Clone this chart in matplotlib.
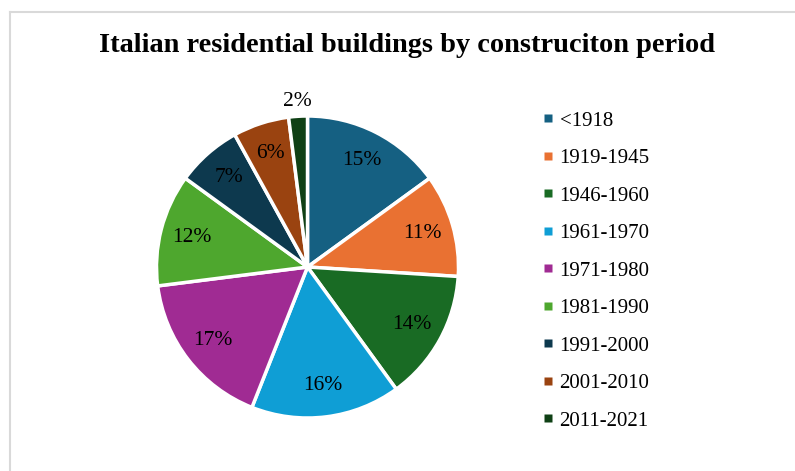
import matplotlib
matplotlib.use("Agg")
import matplotlib.pyplot as plt
from matplotlib.lines import Line2D
import numpy as np

categories = ["<1918", "1919-1945", "1946-1960", "1961-1970", "1971-1980",
              "1981-1990", "1991-2000", "2001-2010", "2011-2021"]
values = [15, 11, 14, 16, 17, 12, 7, 6, 2]
colors = ["#156082", "#E97132", "#196B24", "#0F9ED5", "#A02B93",
          "#4EA72E", "#0D394E", "#9A4310", "#0F4015"]
title = "Italian residential buildings by construciton period"

plt.rcParams['font.family'] = ['Liberation Serif', 'DejaVu Serif']

W, H = 795, 471
fig = plt.figure(figsize=(W / 100, H / 100), dpi=100)

# frame
fig.add_artist(Line2D([10 / W, 10 / W], [0, 1 - 12 / H], color="#D9D9D9", lw=1.5))
fig.add_artist(Line2D([10 / W, 1], [1 - 12 / H, 1 - 12 / H], color="#D9D9D9", lw=1.5))

cx, cy, r = 307.5, 267, 151
ax = fig.add_axes([(cx - r) / W, (H - cy - r) / H, 2 * r / W, 2 * r / H])
wedges, _ = ax.pie(values, colors=colors, startangle=90, counterclock=False,
                   wedgeprops=dict(edgecolor="white", linewidth=2.5))
ax.set_xlim(-1, 1)
ax.set_ylim(-1, 1)
ax.set_aspect("equal")
ax.axis("off")

total = sum(values)
for w, v in zip(wedges, values):
    ang = np.deg2rad((w.theta1 + w.theta2) / 2)
    d = 0.79 if v >= 5 else 1.1
    ax.text(d * np.cos(ang), d * np.sin(ang), f"{round(100 * v / total)}%",
            ha="center", va="center", fontsize=15.5, color="black")

fig.text(407 / W, 1 - 45 / H, title, ha="center", va="center",
         fontsize=20.4, fontweight="bold")

handles = [Line2D([], [], marker="s", linestyle="none", markersize=5.2,
                  markerfacecolor=w.get_facecolor(), markeredgecolor="none")
           for w in wedges]
fig.legend(handles, categories, loc="center left",
           bbox_to_anchor=(544 / W, 1 - 271 / H), frameon=False,
           fontsize=15, handlelength=0.4, handletextpad=0.35,
           labelspacing=0.86, borderpad=0, borderaxespad=0)

fig.savefig("out.png", dpi=100)
